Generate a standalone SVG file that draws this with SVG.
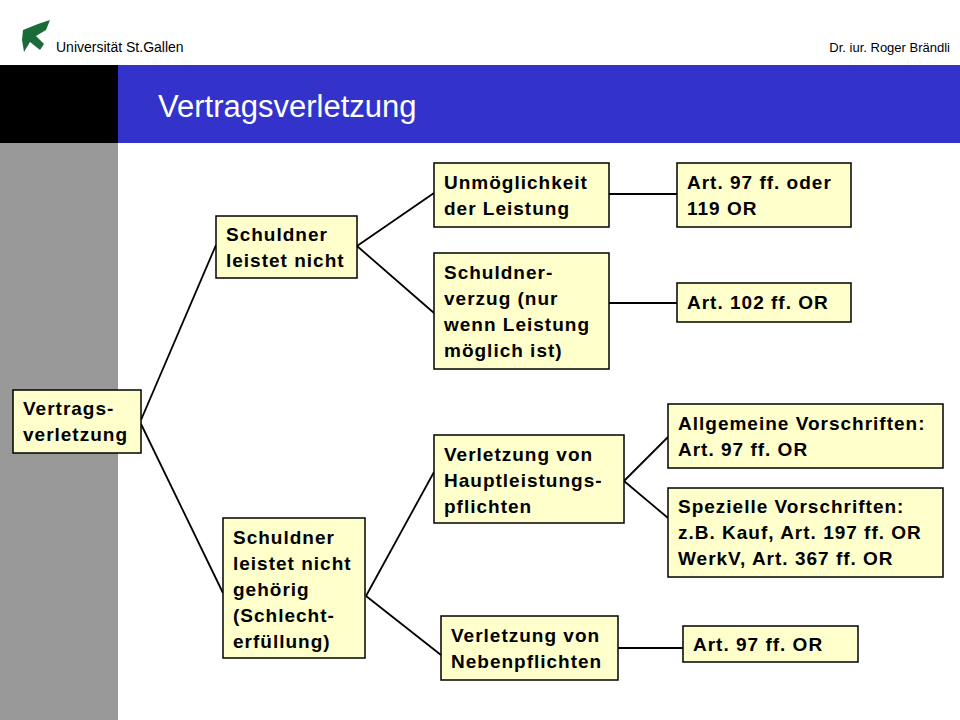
<svg xmlns="http://www.w3.org/2000/svg" width="960" height="720" viewBox="0 0 960 720">
<style>
.b{fill:#FFFFCC;stroke:#000;stroke-width:1.5}
.t{font-family:"Liberation Sans",Arial,sans-serif;font-weight:bold;font-size:19px;letter-spacing:1px;fill:#000}
#connectors line{stroke:#000;stroke-width:1.8}
</style>
<rect width="960" height="720" fill="#fff"/>
<rect x="0" y="143" width="118" height="577" fill="#999"/>
<rect x="0" y="65" width="118" height="78" fill="#000"/>
<rect x="118" y="65" width="842" height="78" fill="#3333CC"/>
<text x="158" y="117" font-family="Liberation Sans,Arial,sans-serif" font-size="31" fill="#fff">Vertragsverletzung</text>
<polygon points="23,30 38,24 50,20 46,30 36,36 44,44 40,50 30,42 24,52 22,40" fill="#1a6b3a"/>
<text x="56" y="52" font-family="Liberation Sans Narrow,Liberation Sans,sans-serif" font-size="14" fill="#000">Universität St.Gallen</text>
<text x="950" y="52" text-anchor="end" font-family="Liberation Sans Narrow,Liberation Sans,sans-serif" font-size="13" fill="#000">Dr. iur. Roger  Brändli</text>
<g id="connectors">
<line x1="141" y1="420" x2="216" y2="245"/>
<line x1="141" y1="424" x2="223" y2="593"/>
<line x1="357" y1="246" x2="434" y2="193"/>
<line x1="357" y1="246" x2="434" y2="313"/>
<line x1="366" y1="596" x2="434" y2="472"/>
<line x1="366" y1="596" x2="441" y2="655"/>
<line x1="624" y1="481" x2="668" y2="437"/>
<line x1="624" y1="481" x2="668" y2="518"/>
<line x1="609" y1="194" x2="677" y2="194"/>
<line x1="609" y1="303" x2="677" y2="303"/>
<line x1="618" y1="648" x2="683" y2="648"/>
</g>
<g id="n1"><rect class="b" x="13" y="390" width="128" height="63"/><text class="t" x="23" y="415">Vertrags-</text><text class="t" x="23" y="441">verletzung</text></g>
<g id="n2"><rect class="b" x="216" y="216" width="141" height="62"/><text class="t" x="226" y="241">Schuldner</text><text class="t" x="226" y="267">leistet nicht</text></g>
<g id="n3"><rect class="b" x="434" y="163" width="175" height="64"/><text class="t" x="444" y="189">Unmöglichkeit</text><text class="t" x="444" y="215">der Leistung</text></g>
<g id="n4"><rect class="b" x="434" y="253" width="175" height="116"/><text class="t" x="444" y="279">Schuldner-</text><text class="t" x="444" y="305">verzug (nur</text><text class="t" x="444" y="331">wenn Leistung</text><text class="t" x="444" y="357">möglich ist)</text></g>
<g id="n5"><rect class="b" x="677" y="163" width="174" height="64"/><text class="t" x="687" y="189">Art. 97 ff. oder</text><text class="t" x="687" y="215">119 OR</text></g>
<g id="n6"><rect class="b" x="677" y="283" width="174" height="39"/><text class="t" x="687" y="309">Art. 102 ff. OR</text></g>
<g id="n7"><rect class="b" x="223" y="518" width="142" height="140"/><text class="t" x="233" y="544">Schuldner</text><text class="t" x="233" y="570">leistet nicht</text><text class="t" x="233" y="596">gehörig</text><text class="t" x="233" y="622">(Schlecht-</text><text class="t" x="233" y="648">erfüllung)</text></g>
<g id="n8"><rect class="b" x="434" y="435" width="190" height="88"/><text class="t" x="444" y="461">Verletzung von</text><text class="t" x="444" y="487">Hauptleistungs-</text><text class="t" x="444" y="513">pflichten</text></g>
<g id="n9"><rect class="b" x="668" y="404" width="275" height="64"/><text class="t" x="678" y="430">Allgemeine Vorschriften:</text><text class="t" x="678" y="456">Art. 97 ff. OR</text></g>
<g id="n10"><rect class="b" x="668" y="488" width="275" height="89"/><text class="t" x="678" y="513">Spezielle Vorschriften:</text><text class="t" x="678" y="539">z.B. Kauf, Art. 197 ff. OR</text><text class="t" x="678" y="565">WerkV, Art. 367 ff. OR</text></g>
<g id="n11"><rect class="b" x="441" y="616" width="177" height="64"/><text class="t" x="451" y="642">Verletzung von</text><text class="t" x="451" y="668">Nebenpflichten</text></g>
<g id="n12"><rect class="b" x="683" y="626" width="175" height="36"/><text class="t" x="693" y="651">Art. 97 ff. OR</text></g>
</svg>
